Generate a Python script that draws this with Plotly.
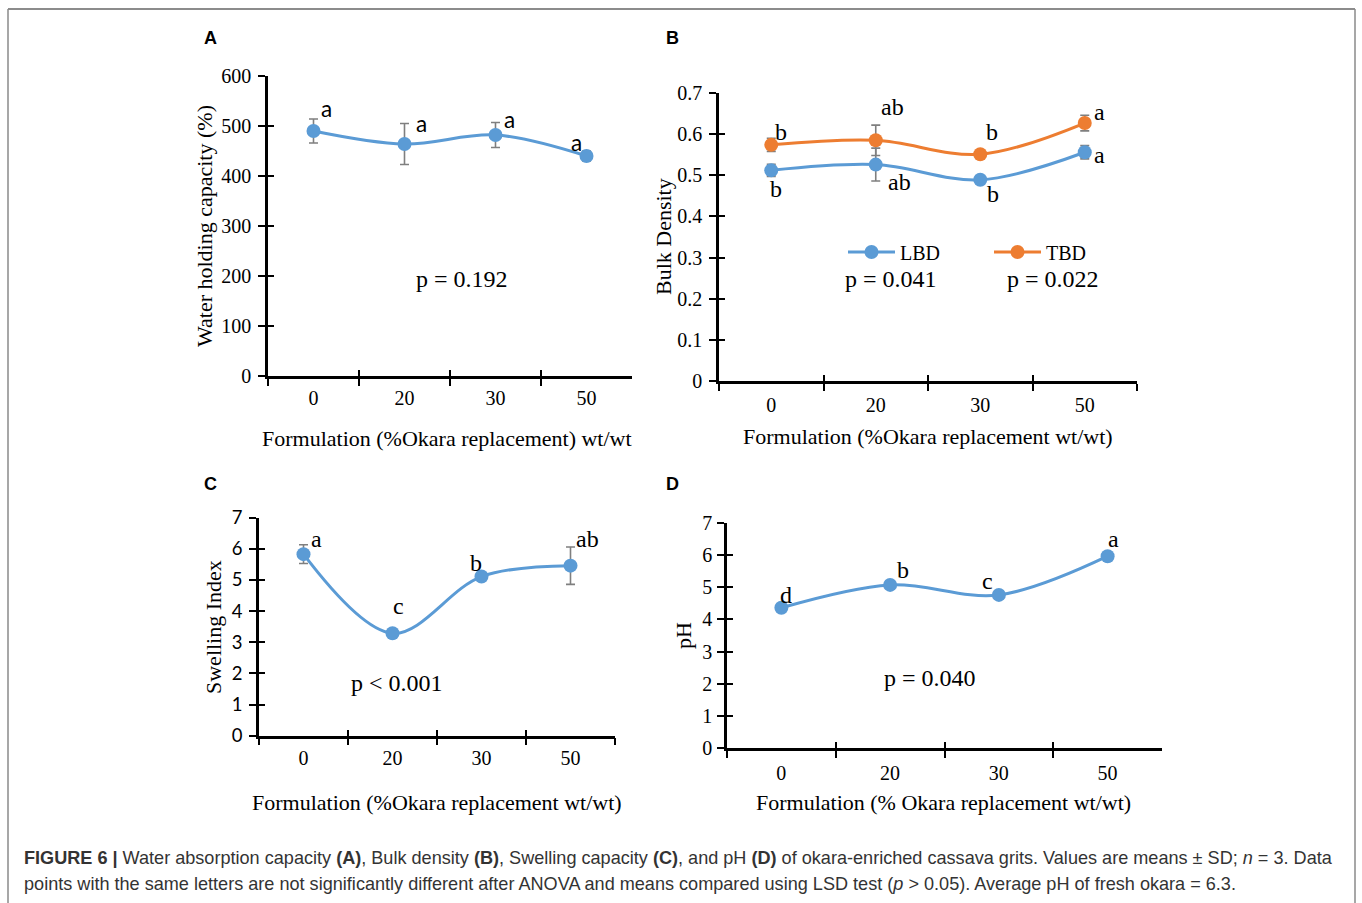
import plotly.graph_objects as go

W, H = 1362, 903

# ---------------- data ----------------
categories = ["0", "20", "30", "50"]

whc = [490, 464, 482, 440]
whc_sd = [24, 41, 25, 10]
whc_letters = ["a", "a", "a", "a"]

lbd = [0.512, 0.526, 0.489, 0.556]
lbd_sd = [0.015, 0.040, 0.004, 0.016]
lbd_letters = ["b", "ab", "b", "a"]

tbd = [0.574, 0.585, 0.551, 0.627]
tbd_sd = [0.016, 0.037, 0.004, 0.019]
tbd_letters = ["b", "ab", "b", "a"]

swell = [5.83, 3.29, 5.11, 5.46]
swell_sd = [0.30, 0.06, 0.06, 0.60]
swell_letters = ["a", "c", "b", "ab"]

ph = [4.36, 5.07, 4.76, 5.96]
ph_letters = ["d", "b", "c", "a"]

a_yticks = [0, 100, 200, 300, 400, 500, 600]
b_yticks = [0, 0.1, 0.2, 0.3, 0.4, 0.5, 0.6, 0.7]
b_yticktext = ["0", "0.1", "0.2", "0.3", "0.4", "0.5", "0.6", "0.7"]
cd_yticks = [0, 1, 2, 3, 4, 5, 6, 7]

p_text = {"A": "p = 0.192", "B1": "p = 0.041", "B2": "p = 0.022",
          "C": "p < 0.001", "D": "p = 0.040"}

# ---------------- styles ----------------
BLUE = "#5B9BD5"
ORANGE = "#ED7D31"
SERIF = "Liberation Serif"
SANS = "Lato"
ERR = "#7F7F7F"


def px(x):
    return x / W


def py(y):
    return 1 - y / H


def ax_id(i, kind):
    return kind if i == 1 else f"{kind}{i}"


def ax_key(i, kind):
    return f"{kind}axis" if i == 1 else f"{kind}axis{i}"


fig = go.Figure()
layout = dict(width=W, height=H, margin=dict(l=0, r=0, t=0, b=0, pad=0, autoexpand=False),
              paper_bgcolor="white", plot_bgcolor="rgba(0,0,0,0)",
              showlegend=True)

panels = [
    dict(i=1, xd=(268, 632), yd=(76, 376), yr=[0, 600], tv=a_yticks,
         tt=[str(v) for v in a_yticks], yfont=dict(family=SERIF, size=20, color="black"),
         ystand=3, xstand=2),
    dict(i=2, xd=(719, 1137), yd=(93, 381), yr=[0, 0.7], tv=b_yticks,
         tt=b_yticktext, yfont=dict(family=SERIF, size=20, color="black"),
         ystand=3, xstand=4),
    dict(i=3, xd=(259, 615), yd=(517.7, 735.7), yr=[0, 7], tv=cd_yticks,
         tt=[str(v) for v in cd_yticks], yfont=dict(family=SANS, size=18.5, color="black"),
         ystand=3, xstand=3),
    dict(i=4, xd=(727, 1162), yd=(522.7, 748.3), yr=[0, 7], tv=cd_yticks,
         tt=[str(v) for v in cd_yticks], yfont=dict(family=SERIF, size=20, color="black"),
         ystand=1, xstand=5),
]

for p in panels:
    i = p["i"]
    j = i + 4
    xdom = [px(p["xd"][0]), px(p["xd"][1])]
    ydom = [py(p["yd"][1]), py(p["yd"][0])]
    xcommon = dict(type="category", categoryorder="array", categoryarray=categories,
                   range=[-0.5, 3.5], tickson="boundaries", showgrid=False, zeroline=False,
                   tickwidth=2, tickcolor="black", fixedrange=True)
    ycommon = dict(range=p["yr"], tickvals=p["tv"], showgrid=False, zeroline=False,
                   tickwidth=2, tickcolor="black", fixedrange=True)
    layout[ax_key(i, "x")] = dict(**xcommon, domain=xdom, anchor=ax_id(i, "y"),
                                  showline=True, linecolor="black", linewidth=2.5,
                                  ticks="outside", ticklen=7,
                                  tickfont=dict(family=SERIF, size=20, color="black"),
                                  ticklabelstandoff=p["xstand"])
    layout[ax_key(i, "y")] = dict(**ycommon, domain=ydom, anchor=ax_id(i, "x"),
                                  ticktext=p["tt"],
                                  showline=True, linecolor="black", linewidth=2.5,
                                  ticks="outside", ticklen=7, tickfont=p["yfont"],
                                  ticklabelstandoff=p["ystand"])
    # overlay axes to give "cross" tick marks
    layout[ax_key(j, "x")] = dict(**xcommon, overlaying=ax_id(i, "x"), anchor=ax_id(i, "y"),
                                  side="bottom", showline=False, ticks="inside", ticklen=6,
                                  showticklabels=False)
    layout[ax_key(j, "y")] = dict(**ycommon, overlaying=ax_id(i, "y"), anchor=ax_id(i, "x"),
                                  side="left", showline=False, ticks="inside", ticklen=6,
                                  showticklabels=False)


def series(i, y, sd, color, name=None, legend=False):
    kw = dict(x=categories, y=y, mode="lines+markers",
              line=dict(color=color, width=3, shape="spline", smoothing=1),
              marker=dict(color=color, size=14),
              xaxis=ax_id(i, "x"), yaxis=ax_id(i, "y"),
              hoverinfo="skip", showlegend=legend, name=name or "")
    if sd is not None:
        kw["error_y"] = dict(type="data", array=sd, color=ERR, thickness=1.6, width=4.5)
    fig.add_trace(go.Scatter(**kw))


def ghost(i, y):
    j = i + 4
    for xa, ya in ((ax_id(i, "x"), ax_id(j, "y")), (ax_id(j, "x"), ax_id(i, "y"))):
        fig.add_trace(go.Scatter(x=categories, y=y, mode="markers", marker=dict(opacity=0),
                                 xaxis=xa, yaxis=ya, hoverinfo="skip", showlegend=False))


ghost(1, whc)
ghost(2, lbd)
ghost(3, swell)
ghost(4, ph)

series(1, whc, whc_sd, BLUE)
series(2, lbd, lbd_sd, BLUE, "LBD", True)
series(2, tbd, tbd_sd, ORANGE, "TBD", True)
series(3, swell, swell_sd, BLUE)
series(4, ph, None, BLUE)

annotations = []


def letters(i, y, labels, offsets, font):
    for k, (v, t, (dx, dy)) in enumerate(zip(y, labels, offsets)):
        annotations.append(dict(x=k, y=v, xref=ax_id(i, "x"), yref=ax_id(i, "y"),
                                text=t, showarrow=False, xshift=dx, yshift=dy, font=font))


sans_letter = dict(family=SANS, size=22.5, color="black")
serif_letter = dict(family=SERIF, size=24, color="black")
letters(1, whc, whc_letters, [(13, 22), (17, 20), (14, 15), (-10, 13)], sans_letter)
letters(2, tbd, tbd_letters, [(10, 13), (17, 33), (12, 22), (15, 11)], serif_letter)
letters(2, lbd, lbd_letters, [(5, -19), (24, -17), (13, -14), (15, -3)], serif_letter)
letters(3, swell, swell_letters, [(13, 15), (6, 27), (-6, 14), (17, 27)], serif_letter)
letters(4, ph, ph_letters, [(5, 13), (13, 15), (-11, 14), (6, 17)], serif_letter)


def text(x, y, t, size=24, family=SERIF, angle=0, anchor="center", color="black"):
    annotations.append(dict(x=px(x), y=py(y), xref="paper", yref="paper", text=t,
                            showarrow=False, textangle=angle, xanchor=anchor, yanchor="middle",
                            font=dict(family=family, size=size, color=color)))


# p-values
text(461.5, 279, p_text["A"])
text(890.5, 279, p_text["B1"])
text(1052.5, 279, p_text["B2"])
text(397, 683, p_text["C"])
text(930, 678, p_text["D"])

# axis titles
text(447, 438, "Formulation (%Okara replacement) wt/wt", size=22)
text(205, 226, "Water holding capacity (%)", size=22, angle=-90)
text(928, 436, "Formulation (%Okara replacement wt/wt)", size=22)
text(663, 237, "Bulk Density", size=22, angle=-90)
text(437, 802, "Formulation (%Okara replacement wt/wt)", size=22)
text(213, 627, "Swelling Index", size=22, angle=-90)
text(944, 802, "Formulation (% Okara replacement wt/wt)", size=22)
text(683, 636, "pH", size=22, angle=-90)

# panel labels
for lab, (x, y) in {"A": (210, 38), "B": (672, 38), "C": (210, 484), "D": (672, 484)}.items():
    text(x, y, f"<b>{lab}</b>", size=18, family="Liberation Sans")

# caption
cap1 = ("<b>FIGURE 6 |</b> Water absorption capacity <b>(A)</b>, Bulk density <b>(B)</b>, "
        "Swelling capacity <b>(C)</b>, and pH <b>(D)</b> of okara-enriched cassava grits. "
        "Values are means ± SD; <i>n</i> = 3. Data")
cap2 = ("points with the same letters are not significantly different after ANOVA and means "
        "compared using LSD test (<i>p</i> &gt; 0.05). Average pH of fresh okara = 6.3.")
text(22, 858, cap1, size=18.1, family="Liberation Sans", anchor="left", color="#333333")
text(22, 884, cap2, size=18.1, family="Liberation Sans", anchor="left", color="#333333")

layout["annotations"] = annotations
layout["legend"] = dict(orientation="h", x=px(843), y=py(252), xanchor="left", yanchor="middle",
                        font=dict(family=SERIF, size=20, color="black"),
                        bgcolor="rgba(0,0,0,0)", itemwidth=47, entrywidth=84,
                        tracegroupgap=0)
layout["shapes"] = [
    dict(type="line", xref="paper", yref="paper", x0=px(8), x1=px(1355), y0=py(9), y1=py(9),
         line=dict(color="#1a1a1a", width=1.2)),
    dict(type="line", xref="paper", yref="paper", x0=px(8), x1=px(8), y0=0, y1=py(9),
         line=dict(color="#8a8a8a", width=1.5)),
    dict(type="line", xref="paper", yref="paper", x0=px(1355), x1=px(1355), y0=0, y1=py(9),
         line=dict(color="#8a8a8a", width=1.5)),
]
fig.update_layout(**layout)
fig.write_html("out.html")
